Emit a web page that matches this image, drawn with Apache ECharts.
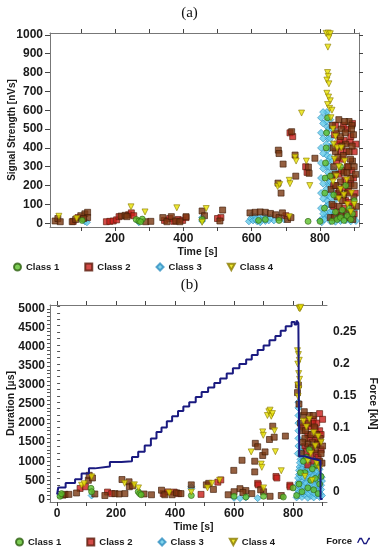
<!DOCTYPE html>
<html>
<head>
<meta charset="utf-8">
<script src="https://cdn.jsdelivr.net/npm/echarts@6/dist/echarts.min.js"></script>
<style>html,body{margin:0;padding:0;background:#fff}#c{width:379px;height:550px}</style>
</head>
<body>
<div id="c"></div>
<script>
// ---------- chart (a): Signal strength vs time ----------
const aClass1 = [[104,15],[262,20],[270,12],[280,22],[275,8],[455,20],[620,15],[640,20],[680,15],[765,10],[800,10],[813,80],[814,160],[815,240],[816,320],[818,400],[819,480],[822,560],[835,10],[850,20],[860,30],[870,15],[880,40],[890,20],[845,60],[865,70],[885,80],[895,50],[840,150],[875,200],[860,300],[830,250],[900,120]];
const aClass2Red = [[78,10],[92,30],[175,8],[185,10],[195,12],[205,18],[212,35],[240,45],[248,55],[255,40],[345,15],[360,25],[372,10],[385,20],[398,15],[408,30],[500,25],[510,30],[700,40],[712,480],[720,460],[758,300],[762,270],[840,200],[850,420],[860,380],[870,440],[880,500],[890,460],[895,530],[845,520],[865,340],[880,300],[890,210],[870,190],[855,260],[900,380],[875,120],[895,90],[835,250],[842,470],[848,330],[853,160],[858,440],[863,280],[868,520],[873,230],[878,380],[883,170],[888,430],[893,280],[898,240],[903,160],[840,90],[850,60],[870,80],[885,110],[900,50],[905,420]];
const aClass2Brown = [[25,12],[33,25],[40,8],[75,8],[85,20],[100,40],[112,50],[120,58],[120,30],[108,25],[218,38],[230,42],[235,35],[290,8],[305,10],[340,30],[352,8],[365,35],[378,12],[390,8],[408,35],[455,65],[462,40],[507,12],[515,70],[595,55],[610,58],[625,60],[640,58],[655,52],[670,45],[680,30],[690,55],[705,20],[715,30],[678,388],[680,370],[692,314],[717,486],[727,362],[729,250],[677,213],[686,160],[766,298],[768,265],[785,345],[830,30],[835,100],[840,300],[848,480],[855,550],[862,500],[868,360],[875,420],[885,540],[893,520],[898,470],[885,380],[895,330],[900,300],[870,270],[860,220],[850,140],[880,160],[890,240],[900,200],[845,380],[860,460],[832,180],[838,400],[844,260],[852,350],[857,180],[864,410],[869,150],[874,480],[879,270],[884,200],[889,340],[894,410],[899,140],[904,260],[836,520],[846,200],[856,90],[866,120],[876,60],[886,30],[896,20],[906,90],[842,30],[862,40],[882,300],[872,540],[892,500]];
const aClass3 = [[112,10],[118,5],[270,5],[455,30],[455,12],[665,15],[695,20],[592,10],[598,25],[604,15],[610,35],[616,10],[622,28],[628,18],[634,40],[640,12],[646,30],[600,42],[612,20],[625,5],[638,25],[650,15],[655,30],[800,15],[805,5],[810,30],[815,60],[818,90],[820,120],[822,150],[818,180],[824,210],[820,240],[823,270],[819,300],[824,330],[820,360],[822,390],[818,420],[823,450],[819,480],[822,510],[818,540],[822,570],[820,590],[826,100],[828,200],[828,300],[828,400],[826,500],[812,20],[825,40],[803,80],[803,160],[803,240],[803,320],[803,400],[803,480],[803,560],[809,50],[809,130],[809,210],[809,290],[809,370],[809,450],[809,530],[809,590],[830,60],[830,140],[830,220],[830,350],[830,450],[830,550],[836,90],[836,170],[836,250],[836,330],[836,420],[836,500],[842,120],[842,200],[842,280],[846,40],[846,150],[830,10],[838,25],[845,8],[852,30],[860,12],[868,35],[875,15],[882,28],[890,10],[898,30],[905,12],[842,50],[858,60],[872,55],[888,65],[900,70],[835,70],[865,20],[880,45],[895,45]];
const aClass4 = [[36,37],[88,25],[247,87],[288,60],[381,82],[467,78],[455,5],[710,35],[746,585],[710,228],[712,210],[727,350],[730,330],[676,195],[682,205],[760,330],[770,200],[818,1008],[824,1010],[830,1006],[826,985],[823,935],[822,800],[824,780],[820,760],[826,740],[820,690],[825,670],[830,650],[822,630],[828,610],[835,600],[832,560],[838,500],[845,460],[850,400],[842,340],[855,300],[848,250],[860,180],[870,150],[880,100],[890,60],[862,400],[872,330],[878,230],[892,160],[900,100],[855,130],[840,420],[838,220]];
const aXTicks = [100,200,300,400,500,600,700,800,900];
const aXLabels = [200,400,600,800];
const aYTicks = [0,100,200,300,400,500,600,700,800,900,1000];

// ---------- chart (b): Duration and force vs time ----------
const bClass1 = [[10,80],[15,150],[115,290],[117,200],[275,200],[280,150],[285,120],[455,100],[600,80],[640,60],[700,80],[767,60],[800,300],[812,100],[820,400],[830,200],[840,700],[850,300],[860,500],[870,250],[880,900],[890,400],[895,600],[845,1100],[865,800],[875,550],[885,150],[855,1300],[835,1000],[825,700]];
const bClass2Red = [[78,285],[96,330],[171,190],[185,150],[360,150],[376,195],[397,190],[412,150],[488,130],[545,450],[555,510],[742,600],[745,560],[680,420],[682,380],[789,370],[790,330],[840,1400],[850,1700],[860,1900],[870,2100],[880,1200],[885,1500],[890,1800],[895,1300],[870,1000],[860,1150],[850,900],[880,2000],[890,2250],[875,1600],[845,2050],[835,1900],[845,1250],[855,1600],[865,2000],[875,1850],[885,1100],[895,1700],[900,2100]];
const bClass2Brown = [[20,110],[27,130],[40,130],[66,167],[106,500],[109,630],[120,560],[128,140],[162,100],[196,150],[210,140],[220,520],[230,150],[244,460],[245,330],[256,355],[295,140],[320,120],[354,240],[365,120],[390,120],[405,170],[420,150],[455,380],[506,380],[514,420],[530,260],[599,760],[620,280],[627,1025],[640,230],[660,150],[670,1000],[670,720],[672,1470],[680,1380],[697,1150],[705,1245],[720,1570],[731,1920],[736,1630],[774,1660],[722,80],[700,200],[690,250],[760,100],[580,120],[600,200],[630,180],[815,2800],[818,3000],[820,2500],[825,2000],[830,1800],[835,2200],[855,2200],[865,1500],[875,1300],[885,900],[890,1000],[895,1200],[880,1700],[860,1700],[840,1600],[850,1450],[832,1500],[842,1800],[852,2000],[862,1350],[872,1900],[882,1450],[892,1600],[898,950],[838,2300],[868,2200],[900,1400],[828,1200]];
const bClass3 = [[13,100],[117,100],[455,285],[455,330],[600,40],[620,30],[640,50],[680,30],[812,50],[820,100],[830,60],[840,120],[850,40],[860,90],[870,50],[880,110],[890,60],[898,100],[815,250],[825,300],[835,220],[845,330],[855,260],[865,310],[875,240],[885,290],[895,260],[818,450],[828,500],[838,420],[848,520],[858,470],[868,430],[878,510],[888,460],[898,480],[820,650],[830,700],[840,620],[850,720],[860,680],[870,640],[880,700],[890,660],[822,850],[832,900],[842,830],[852,920],[862,870],[872,910],[882,860],[825,1050],[835,1100],[845,1030],[855,1120],[865,1060],[875,1130],[885,1400],[880,1600],[888,1550],[828,1250],[838,1300],[848,1200],[858,1350],[818,1400],[818,1600],[818,1800],[818,2000],[818,2200],[818,2400],[816,1200],[818,2550],[815,150],[822,200],[832,160],[842,210],[852,150],[862,200],[872,160],[882,200],[892,150],[815,380],[825,400],[835,350],[845,420],[855,370],[865,390],[875,360],[885,380],[895,370],[817,560],[827,600],[837,570],[847,610],[857,570],[867,590],[877,560],[887,600],[897,580],[820,760],[830,790],[840,750],[850,800],[860,770],[870,780],[880,760],[890,790],[823,960],[833,990],[843,950],[853,1000],[863,970],[873,990],[883,950],[827,1150],[837,1180],[847,1120],[857,1190],[867,1150],[877,1180],[830,1380],[840,1420],[850,1350],[860,1430]];
const bClass4 = [[83,370],[92,410],[117,590],[229,420],[262,380],[276,300],[380,170],[455,190],[510,300],[525,420],[551,500],[658,1245],[692,925],[694,840],[697,1770],[699,1680],[713,2200],[718,2300],[722,2340],[726,2180],[730,2250],[737,1800],[740,1250],[760,750],[700,300],[820,5020],[823,5000],[826,5040],[815,3900],[818,3800],[821,3650],[816,3550],[819,3300],[822,3150],[816,3000],[820,2900],[817,2700],[835,2050],[845,1900],[855,2100],[870,1750],[885,1650],[895,1500],[860,1200],[875,1400],[850,1000],[880,950],[890,800],[840,600],[865,500]];
const forceTime  = [0,4,29,61,83,108,128,179,218,254,275,297,318,337,354,372,390,410,428,448,470,490,512,533,553,575,596,618,641,660,680,700,720,740,758,775,795,805,812,818,821,840,860,880,893,900];
const forceValue = [-0.005,0.006,0.013,0.019,0.028,0.036,0.039,0.046,0.047,0.054,0.062,0.072,0.083,0.093,0.100,0.110,0.118,0.126,0.133,0.140,0.148,0.156,0.163,0.170,0.177,0.185,0.193,0.200,0.207,0.214,0.222,0.229,0.237,0.244,0.252,0.259,0.266,0.262,0.268,0.264,0.055,0.052,0.050,0.048,-0.012,-0.012];
const bXTicks = [0,100,200,300,400,500,600,700,800,900];
const bXLabels = [0,200,400,600,800];
const bYTicks = [0,100,200,300,400,500,600,700,800,900,1000,1100,1200,1300,1400,1500,1600,1700,1800,1900,2000,2100,2200,2300,2400,2500,2600,2700,2800,2900,3000,3100,3200,3300,3400,3500,3600,3700,3800,3900,4000,4100,4200,4300,4400,4500,4600,4700,4800,4900,5000];
const bYLabels = [0,500,1000,1500,2000,2500,3000,3500,4000,4500,5000];
const fTicks = [-0.01,0,0.01,0.02,0.03,0.04,0.05,0.06,0.07,0.08,0.09,0.1,0.11,0.12,0.13,0.14,0.15,0.16,0.17,0.18,0.19,0.2,0.21,0.22,0.23,0.24,0.25,0.26,0.27,0.28,0.29];
const fLabels = [0,0.05,0.1,0.15,0.2,0.25];

const forceData = forceTime.map((t,i)=>[t, forceValue[i]]);

const FONT = 'Liberation Sans, Arial, sans-serif';
const AX = '#777';
const plain = v => String(v);
const lbl = {fontFamily:FONT, fontSize:12, fontWeight:'bold', color:'#1a1a1a', formatter: plain};

function sc(name, data, g, symbol, size, fill, border, rot, z){
  return {type:'scatter', name, data, xAxisIndex: g?2:0, yAxisIndex: g?2:0,
    symbol, symbolSize:size, symbolRotate: rot||0, z: z,
    itemStyle:{color:fill, borderColor:border, borderWidth:0.8}, emphasis:{disabled:true}};
}
const C1=['#5cbf2a','#2e6012'], C2R=['#c81e1a','#5a1a0a'], C2B=['#7a3812','#3e1a06'], C3=['#63cbe8','#2f8fc0'], C4=['#e8e200','#8a7a00'];
const tri = 'path://M0,0 L10,0 L5,9 Z';

function xAx(g, pos, min, max, ticks, labels, name, pad){
  return {type:'value', gridIndex:g, position:pos, min, max,
    axisLine:{show:true, onZero:false, lineStyle:{color:AX, width:1}},
    axisTick:{show:true, length:4, customValues:ticks, lineStyle:{color:'#444'}},
    axisLabel:{show:!!labels, customValues:labels||[], margin:6, ...lbl},
    splitLine:{show:false},
    name: name||'', nameLocation:'middle', nameGap: 20, nameMoveOverlap:false,
    nameTextStyle:{fontFamily:FONT, fontSize:10.5, fontWeight:'bold', color:'#1a1a1a', padding:pad||0}};
}
const legText = {fontFamily:FONT, fontSize:9.5, fontWeight:'bold', color:'#1a1a1a'};
const classItems = [{name:'Class 1',icon:'circle'},{name:'Class 2',icon:'rect'},{name:'Class 3',icon:'diamond'},{name:'Class 4',icon:tri}];

const option = {
  animation:false,
  backgroundColor:'#fff',
  title:[
    {text:'(a)', left:'center', top:1, textStyle:{fontFamily:'Liberation Serif, Times New Roman, serif', fontSize:15, fontWeight:'normal', color:'#111'}},
    {text:'(b)', left:'center', top:273, textStyle:{fontFamily:'Liberation Serif, Times New Roman, serif', fontSize:15, fontWeight:'normal', color:'#111'}}
  ],
  grid:[
    {left:50, right:20, top:33, height:194, containLabel:false, outerBoundsMode:'none'},
    {left:50, right:52, top:305, height:197, containLabel:false, outerBoundsMode:'none'}
  ],
  legend:[
    {left:8, top:257, itemWidth:7, itemHeight:7, itemGap:25, textStyle:legText, data:classItems},
    {left:10, top:532, itemWidth:7, itemHeight:7, itemGap:25, textStyle:legText, data:classItems},
    {right:4, top:531, align:'right', itemWidth:13, itemHeight:8, textStyle:legText,
      data:[{name:'Force', icon:'path://M0,8 L3,2 L6,2 L9,8 L11,8 L14,2 L16,2 L16,4 L14.8,4 L11.8,10 L8.2,10 L5.2,4 L3.8,4 L1.6,8.6 Z'}]}
  ],
  xAxis:[
    xAx(0,'bottom',10,914,aXTicks,aXLabels,'Time [s]',[0,14,0,0]),
    xAx(0,'top',10,914,aXTicks,null,null),
    xAx(1,'bottom',-24,915,bXTicks,bXLabels,'Time [s]',[0,0,0,10]),
    xAx(1,'top',-24,915,bXTicks,null,null)
  ],
  yAxis:[
    {type:'value', gridIndex:0, position:'left', min:-20, max:1010,
      axisLine:{show:true, onZero:false, lineStyle:{color:AX}},
      axisTick:{show:true, length:5, customValues:aYTicks, lineStyle:{color:'#444'}},
      axisLabel:{customValues:aYTicks, margin:7, ...lbl},
      splitLine:{show:false},
      name:'Signal Strength [nVs]', nameLocation:'middle', nameGap:33, nameMoveOverlap:false,
      nameTextStyle:{fontFamily:FONT, fontSize:10, fontWeight:'bold', color:'#1a1a1a'}},
    {type:'value', gridIndex:0, position:'right', min:-20, max:1010,
      axisLine:{show:true, onZero:false, lineStyle:{color:AX}},
      axisTick:{show:true, length:4, customValues:aYTicks, lineStyle:{color:'#444'}},
      axisLabel:{show:false}, splitLine:{show:false}},
    {type:'value', gridIndex:1, position:'left', min:-70, max:5100,
      axisLine:{show:true, onZero:false, lineStyle:{color:AX}},
      axisTick:{show:true, length:3, customValues:bYTicks, lineStyle:{color:'#555'}},
      axisLabel:{customValues:bYLabels, margin:5, ...lbl},
      splitLine:{show:false},
      name:'Duration [µs]', nameLocation:'middle', nameGap:33, nameMoveOverlap:false,
      nameTextStyle:{fontFamily:FONT, fontSize:10.5, fontWeight:'bold', color:'#1a1a1a'}},
    {type:'value', gridIndex:1, position:'right', min:-0.0168, max:0.2925,
      axisLine:{show:false},
      axisTick:{show:true, length:3, customValues:fTicks, lineStyle:{color:'#555'}},
      axisLabel:{customValues:fLabels, margin:6, ...lbl},
      splitLine:{show:false},
      name:'Force [kN]', nameLocation:'middle', nameGap:40, nameRotate:-90, nameMoveOverlap:false,
      nameTextStyle:{fontFamily:FONT, fontSize:10.5, fontWeight:'bold', color:'#1a1a1a'}}
  ],
  series:[
    sc('Class 3', aClass3, 0, 'diamond', 7, C3[0], C3[1], 0, 2),
    sc('Class 2', aClass2Red, 0, 'rect', 6, C2R[0], C2R[1], 0, 3),
    sc('Class 2', aClass2Brown, 0, 'rect', 6, C2B[0], C2B[1], 0, 3),
    sc('Class 1', aClass1, 0, 'circle', 6, C1[0], C1[1], 0, 4),
    sc('Class 4', aClass4, 0, 'triangle', 6, C4[0], C4[1], 180, 5),
    sc('Class 3', bClass3, 1, 'diamond', 7, C3[0], C3[1], 0, 2),
    sc('Class 2', bClass2Red, 1, 'rect', 6, C2R[0], C2R[1], 0, 3),
    sc('Class 2', bClass2Brown, 1, 'rect', 6, C2B[0], C2B[1], 0, 3),
    sc('Class 1', bClass1, 1, 'circle', 6, C1[0], C1[1], 0, 4),
    sc('Class 4', bClass4, 1, 'triangle', 6, C4[0], C4[1], 180, 5),
    {type:'line', name:'Force', data:forceData, xAxisIndex:2, yAxisIndex:3, step:'end', showSymbol:false, z:6,
      lineStyle:{color:'#1a1a80', width:2}, itemStyle:{color:'#1a1a80'}, emphasis:{disabled:true}}
  ]
};
const chart = echarts.init(document.getElementById('c'), null, {renderer:'canvas'});
chart.setOption(option);
</script>
</body>
</html>
